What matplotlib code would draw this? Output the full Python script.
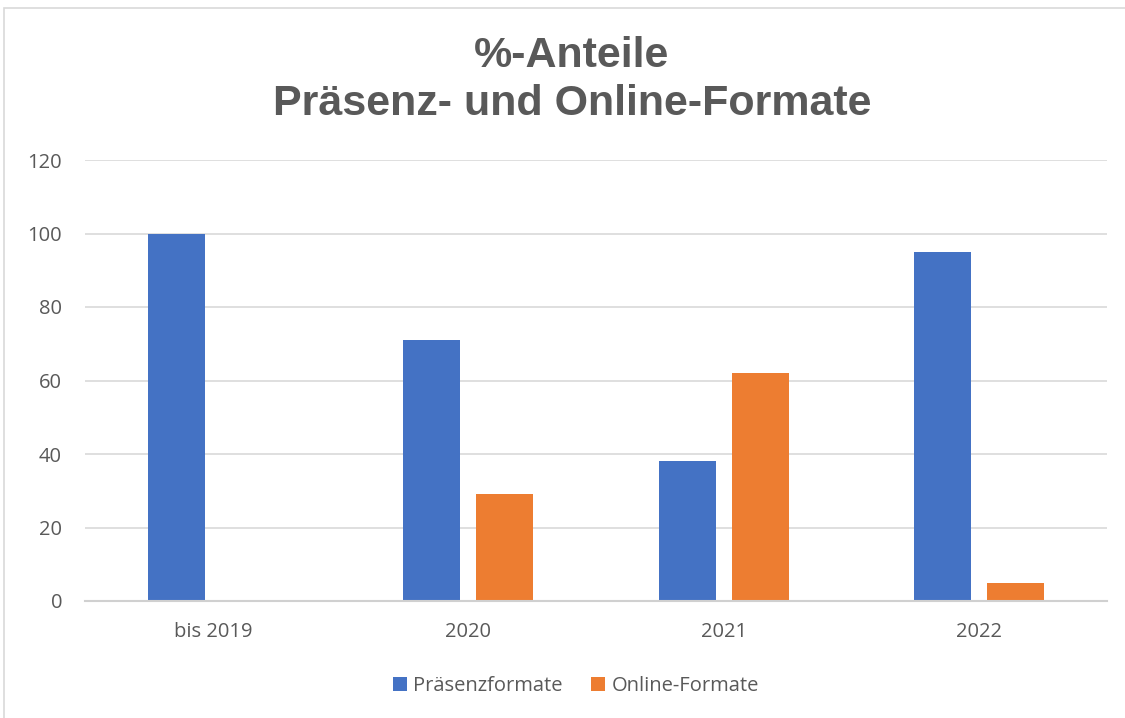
import matplotlib
matplotlib.use("Agg")
import matplotlib.pyplot as plt
from matplotlib.patches import Rectangle
import numpy as np

categories = ["bis 2019", "2020", "2021", "2022"]
praesenz = [100, 71, 38, 95]
online = [0, 29, 62, 5]
series_names = ["Präsenzformate", "Online-Formate"]
yticks = [0, 20, 40, 60, 80, 100, 120]
title = "%-Anteile\nPräsenz- und Online-Formate"

BLUE = "#4472C4"
ORANGE = "#ED7D31"
GRAY = "#595959"

fig = plt.figure(figsize=(11.25, 7.18), dpi=100)
fig.patches.append(Rectangle((4/1125, -0.05), 1.1, 1 - 8/718 + 0.05,
                             transform=fig.transFigure, fill=False,
                             edgecolor="#d9d9d9", linewidth=1.2))

ax = fig.add_axes([85/1125, 1 - 601/718, (1107 - 85)/1125, (601 - 160)/718])
x = np.arange(len(categories))
w = 0.223
off = 0.143
ax.bar(x - off, praesenz, width=w, color=BLUE, label=series_names[0], zorder=3)
ax.bar(x + off, online, width=w, color=ORANGE, label=series_names[1], zorder=3)

ax.set_xlim(-0.5, len(categories) - 0.5)
ax.set_ylim(0, 120)
ax.set_yticks(yticks)
ax.yaxis.grid(True, color="#d9d9d9", linewidth=1.2, zorder=0)
ax.set_axisbelow(True)
for s in ["top", "right", "left"]:
    ax.spines[s].set_visible(False)
ax.spines["bottom"].set_color("#d0d0d0")
ax.spines["bottom"].set_linewidth(1.5)
ax.spines["bottom"].set_zorder(4)
ax.tick_params(axis="both", length=0, colors=GRAY, labelsize=14.5)
ax.tick_params(axis="y", pad=16.5)
ax.tick_params(axis="x", pad=15)
ax.set_xticks(x)
ax.set_xticklabels(categories)
for lab in ax.get_xticklabels() + ax.get_yticklabels():
    lab.set_family("Open Sans")
    lab.set_color(GRAY)

fig.text(572/1125, 1 - 80/718, title, ha="center", va="center",
         fontsize=31, fontweight="bold", color=GRAY,
         family="Liberation Sans", linespacing=1.28)

leg = fig.legend(loc="center", bbox_to_anchor=(576/1125, 1 - 686/718), ncol=2,
                 frameon=False, handlelength=0.7, handleheight=0.7,
                 handletextpad=0.3, columnspacing=1.4,
                 prop={"family": "Open Sans", "size": 14.5})
for t in leg.get_texts():
    t.set_color(GRAY)

fig.savefig("out.png", dpi=100)
